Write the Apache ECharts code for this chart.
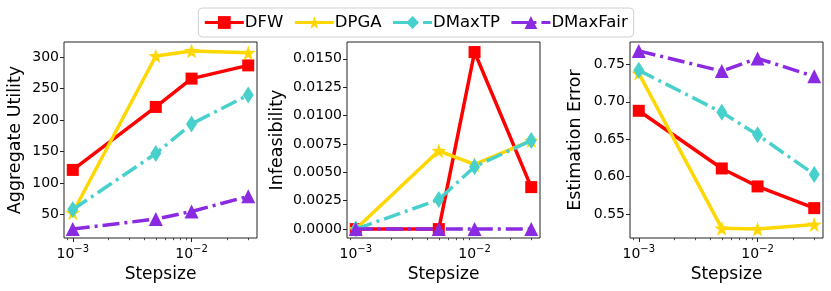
<!DOCTYPE html>
<html><head><meta charset="utf-8">
<script src="https://cdn.jsdelivr.net/npm/echarts@6/dist/echarts.min.js"></script>
<style>html,body{margin:0;padding:0;background:#fff}#c{width:831px;height:291px}</style>
</head><body><div id="c"></div>
<script>
// ---- data ----
var steps = [0.001, 0.005, 0.01, 0.03];
var seriesNames = ['DFW', 'DPGA', 'DMaxTP', 'DMaxFair'];

var utilDFW = [121, 221, 266, 287];
var utilDPGA = [53, 302, 310, 307];
var utilDMaxTP = [58, 147, 194, 240];
var utilDMaxFair = [27, 43, 55, 79];

var infDFW = [0, 0, 0.0156, 0.0037];
var infDPGA = [0, 0.0069, 0.0057, 0.0078];
var infDMaxTP = [0, 0.0026, 0.0055, 0.0078];
var infDMaxFair = [0, 0, 0, 0];

var errDFW = [0.688, 0.611, 0.587, 0.558];
var errDPGA = [0.738, 0.531, 0.530, 0.536];
var errDMaxTP = [0.742, 0.686, 0.656, 0.603];
var errDMaxFair = [0.768, 0.741, 0.758, 0.734];

var xMajorTicks = [0.001, 0.01];
var xMinorTicks = [0.0009, 0.002, 0.003, 0.004, 0.005, 0.006, 0.007, 0.008, 0.009, 0.02, 0.03];
var utilTicks = [50, 100, 150, 200, 250, 300];
var infTicks = [0, 0.0025, 0.005, 0.0075, 0.01, 0.0125, 0.015];
var errTicks = [0.55, 0.60, 0.65, 0.70, 0.75];

var yNames = ['Aggregate Utility', 'Infeasibility', 'Estimation Error'];
// ---- styling ----
var FONT = 'DejaVu Sans';
var colors = ['#ff0000', '#ffd700', '#48d1cc', '#8a2be2'];
var symbols = ['rect', 'path://M50,0 L61.8,36.2 L100,38.2 L69.1,61.8 L80.9,100 L50,77.6 L19.1,100 L30.9,61.8 L0,38.2 L38.2,36.2 Z', 'diamond', 'triangle'];
var symSizes = [12, 15, [11, 17], 14];
var dashDot = [17, 5, 3, 5];
var lineTypes = ['solid', 'solid', dashDot, dashDot];

var panels = [
  {left: 64, data: [utilDFW, utilDPGA, utilDMaxTP, utilDMaxFair], ticks: utilTicks, min: 12.85, max: 324.15, fmt: function (v) { return String(Math.round(v)); }, nameGap: 40},
  {left: 347, data: [infDFW, infDPGA, infDMaxTP, infDMaxFair], ticks: infTicks, min: -0.000785, max: 0.016485, fmt: function (v) { return v.toFixed(4); }, nameGap: 61},
  {left: 630, data: [errDFW, errDPGA, errDMaxTP, errDMaxFair], ticks: errTicks, min: 0.5181, max: 0.7799, fmt: function (v) { return v.toFixed(2); }, nameGap: 46}
];
var xMin = Math.pow(10, -3.0739), xMax = Math.pow(10, -1.449);

var grids = [], xAxes = [], yAxes = [], series = [];
panels.forEach(function (p, gi) {
  grids.push({left: p.left, top: 42, width: 193, height: 196, show: true, borderColor: '#222', borderWidth: 1, containLabel: false});
  xAxes.push({
    type: 'log', logBase: 10, gridIndex: gi, min: xMin, max: xMax, position: 'bottom',
    name: 'Stepsize', nameLocation: 'middle', nameGap: 24,
    nameTextStyle: {fontFamily: FONT, fontSize: 17, color: '#000'},
    axisLine: {show: false}, splitLine: {show: false},
    axisTick: {show: true, inside: false, length: 4, customValues: xMajorTicks, lineStyle: {color: '#222', width: 1}},
    axisLabel: {show: true, margin: 6, customValues: xMajorTicks,
      formatter: function (v) { var e = Math.round(Math.log10(v)); return '{b|10}{s|\u2212' + Math.abs(e) + '}'; },
      rich: {b: {fontFamily: FONT, fontSize: 14, color: '#000', verticalAlign: 'bottom'}, s: {fontFamily: FONT, fontSize: 10, color: '#000', verticalAlign: 'top', padding: [0, 0, 7, 0]}}}
  });
  xAxes.push({
    type: 'log', logBase: 10, gridIndex: gi, min: xMin, max: xMax, position: 'bottom',
    axisLine: {show: false}, splitLine: {show: false}, axisLabel: {show: false},
    axisTick: {show: true, inside: false, length: 2.2, customValues: xMinorTicks, lineStyle: {color: '#222', width: 0.8}}
  });
  yAxes.push({
    type: 'value', gridIndex: gi, min: p.min, max: p.max,
    name: yNames[gi], nameLocation: 'middle', nameGap: p.nameGap, nameRotate: 90,
    nameTextStyle: {fontFamily: FONT, fontSize: 17.5, color: '#000'},
    axisLine: {show: false}, splitLine: {show: false},
    axisTick: {show: true, inside: false, length: 4, customValues: p.ticks, lineStyle: {color: '#222', width: 1}},
    axisLabel: {show: true, margin: 5, customValues: p.ticks, formatter: p.fmt, fontFamily: FONT, fontSize: 14, color: '#000'}
  });
  p.data.forEach(function (vals, si) {
    series.push({
      type: 'line', name: seriesNames[si], xAxisIndex: gi * 2, yAxisIndex: gi,
      data: steps.map(function (s, i) { return [s, vals[i]]; }),
      symbol: symbols[si], symbolSize: symSizes[si], showAllSymbol: true,
      itemStyle: {color: colors[si]},
      lineStyle: {color: colors[si], width: 3.5, type: lineTypes[si], cap: 'butt'},
      animation: false, z: 2 + si
    });
  });
});

var chart = echarts.init(document.getElementById('c'), null, {renderer: 'canvas'});
chart.setOption({
  animation: false,
  grid: grids, xAxis: xAxes, yAxis: yAxes, series: series,
  legend: {
    data: seriesNames, left: 'center', top: 8,
    itemWidth: 39, itemHeight: 16, itemGap: 10,
    lineStyle: {width: 3},
    padding: [6, 6, 6, 5], borderColor: '#d0d0d0', borderWidth: 1, borderRadius: 4,
    textStyle: {fontFamily: FONT, fontSize: 16.5, color: '#000', padding: [0, 0, 0, -4]}
  }
});
</script></body></html>
